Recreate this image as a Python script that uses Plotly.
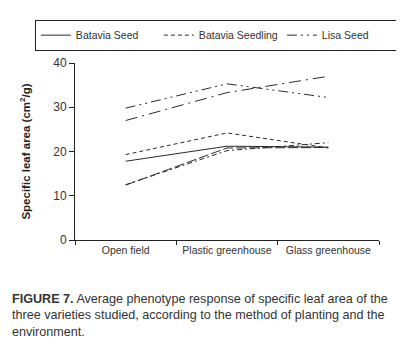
import plotly.graph_objects as go

categories = ["Open field", "Plastic greenhouse", "Glass greenhouse"]

batavia_seed = [17.8, 21.2, 21.0]
batavia_seedling = [19.3, 24.2, 20.8]
lisa_seed = [29.8, 35.3, 32.2]
extra_dashdot = [27.0, 33.3, 37.0]
extra_solid_low = [12.4, 20.8, 20.9]
extra_dash_low = [12.5, 20.2, 22.0]

FONT = "Liberation Sans, Arial, sans-serif"
C = "#2a2a2a"

fig = go.Figure()
fig.add_trace(go.Scatter(x=categories, y=batavia_seed, mode="lines", name="Batavia Seed",
                         line=dict(color=C, width=1, dash="solid")))
fig.add_trace(go.Scatter(x=categories, y=batavia_seedling, mode="lines", name="Batavia Seedling",
                         line=dict(color=C, width=1, dash="4px,3px")))
fig.add_trace(go.Scatter(x=categories, y=lisa_seed, mode="lines", name="Lisa Seed",
                         line=dict(color=C, width=1, dash="10px,4px,2px,4px,2px,4px")))
fig.add_trace(go.Scatter(x=categories, y=extra_dashdot, mode="lines", showlegend=False,
                         line=dict(color=C, width=1, dash="12px,5px,2px,5px")))
fig.add_trace(go.Scatter(x=categories, y=extra_solid_low, mode="lines", showlegend=False,
                         line=dict(color=C, width=1, dash="10px,3px")))
fig.add_trace(go.Scatter(x=categories, y=extra_dash_low, mode="lines", showlegend=False,
                         line=dict(color=C, width=1, dash="5px,3px,2px,3px")))

fig.update_layout(
    width=396, height=340,
    margin=dict(l=67, r=25, t=55, b=108, autoexpand=False),
    paper_bgcolor="white", plot_bgcolor="white",
    font=dict(family=FONT, size=11, color="#333"),
    showlegend=True,
    legend=dict(orientation="h", x=-0.132, xanchor="left", y=1.245, yanchor="top",
                bordercolor="#222", borderwidth=1, font=dict(size=10.5, family=FONT, color="#333"),
                entrywidth=78, itemwidth=30, tracegroupgap=0),
    xaxis=dict(type="category", range=[-0.5, 2.5], showline=True, linecolor="#222", linewidth=1,
               ticks="outside", tickson="boundaries", ticklen=4, tickcolor="#222", tickangle=0,
               showgrid=False, zeroline=False, tickfont=dict(size=10.5, family=FONT, color="#333")),
    yaxis=dict(range=[0, 40], tickvals=[0, 10, 20, 30, 40], showline=True, linecolor="#222",
               linewidth=1, ticks="outside", ticklen=5, tickcolor="#222", showgrid=False,
               zeroline=False, tickfont=dict(size=12, family=FONT, color="#333"),
               title=dict(text="<b>Specific leaf area (cm<sup>2</sup>/g)</b>", standoff=20,
                          font=dict(size=11.5, family=FONT, color="#222"))),
)

caption = ("<b>FIGURE 7.</b> Average phenotype response of specific leaf area of the<br>"
           "three varieties studied, according to the method of planting and the<br>"
           "environment.")
fig.add_annotation(text=caption, xref="paper", yref="paper", x=-0.214, y=-0.282,
                   xanchor="left", yanchor="top", align="left", showarrow=False,
                   font=dict(size=12.6, family=FONT, color="#333"))

fig.write_html("out.html")
